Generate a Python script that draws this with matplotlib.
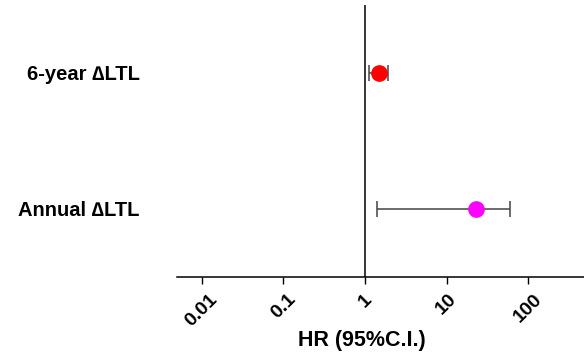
import matplotlib
matplotlib.use("Agg")
import matplotlib.pyplot as plt

labels = ["6-year \u2206LTL", "Annual \u2206LTL"]
ypos = [3, 1]
hr = [1.5, 23.0]
ci_low = [1.12, 1.4]
ci_high = [1.9, 60.0]
colors = ["#ff0000", "#ff00ff"]
xticks = [0.01, 0.1, 1, 10, 100]
xticklabels = ["0.01", "0.1", "1", "10", "100"]

plt.rcParams['font.family'] = ['Liberation Sans', 'DejaVu Sans']
plt.rcParams['font.weight'] = 'bold'

fig = plt.figure(figsize=(5.84, 3.57), dpi=100)
ax = fig.add_axes([177/584, 1 - 277/357, 407/584, 272/357])

ax.axvline(1, color='black', lw=1.1, zorder=1)
for y, h, lo, hi, c in zip(ypos, hr, ci_low, ci_high, colors):
    ax.errorbar([h], [y], xerr=[[h - lo], [hi - h]], fmt='none', ecolor='#444444',
                elinewidth=1.1, capsize=5.5, capthick=1.1, zorder=2)
    ax.plot([h], [y], 'o', color=c, markersize=11, zorder=3)

ax.set_xscale('log')
ax.set_xlim(0.00499, 481)
ax.set_ylim(0, 4)
ax.set_xticks(xticks)
ax.set_xticklabels(xticklabels, rotation=45, ha='center', fontsize=14, fontweight='bold')
ax.minorticks_off()
ax.set_yticks(ypos)
ax.set_yticklabels(labels, fontsize=14.5, fontweight='bold')
ax.tick_params(axis='y', length=0, pad=27)
ax.tick_params(axis='x', length=5, width=1, pad=5)

for s in ['top', 'right', 'left']:
    ax.spines[s].set_visible(False)
ax.spines['bottom'].set_linewidth(1.1)

ax.set_xlabel("HR (95%C.I.)", fontsize=15.5, fontweight='bold')
ax.xaxis.set_label_coords((362 - 177) / 407, -(330 - 277) / 272)

fig.savefig("out.png", dpi=100)
